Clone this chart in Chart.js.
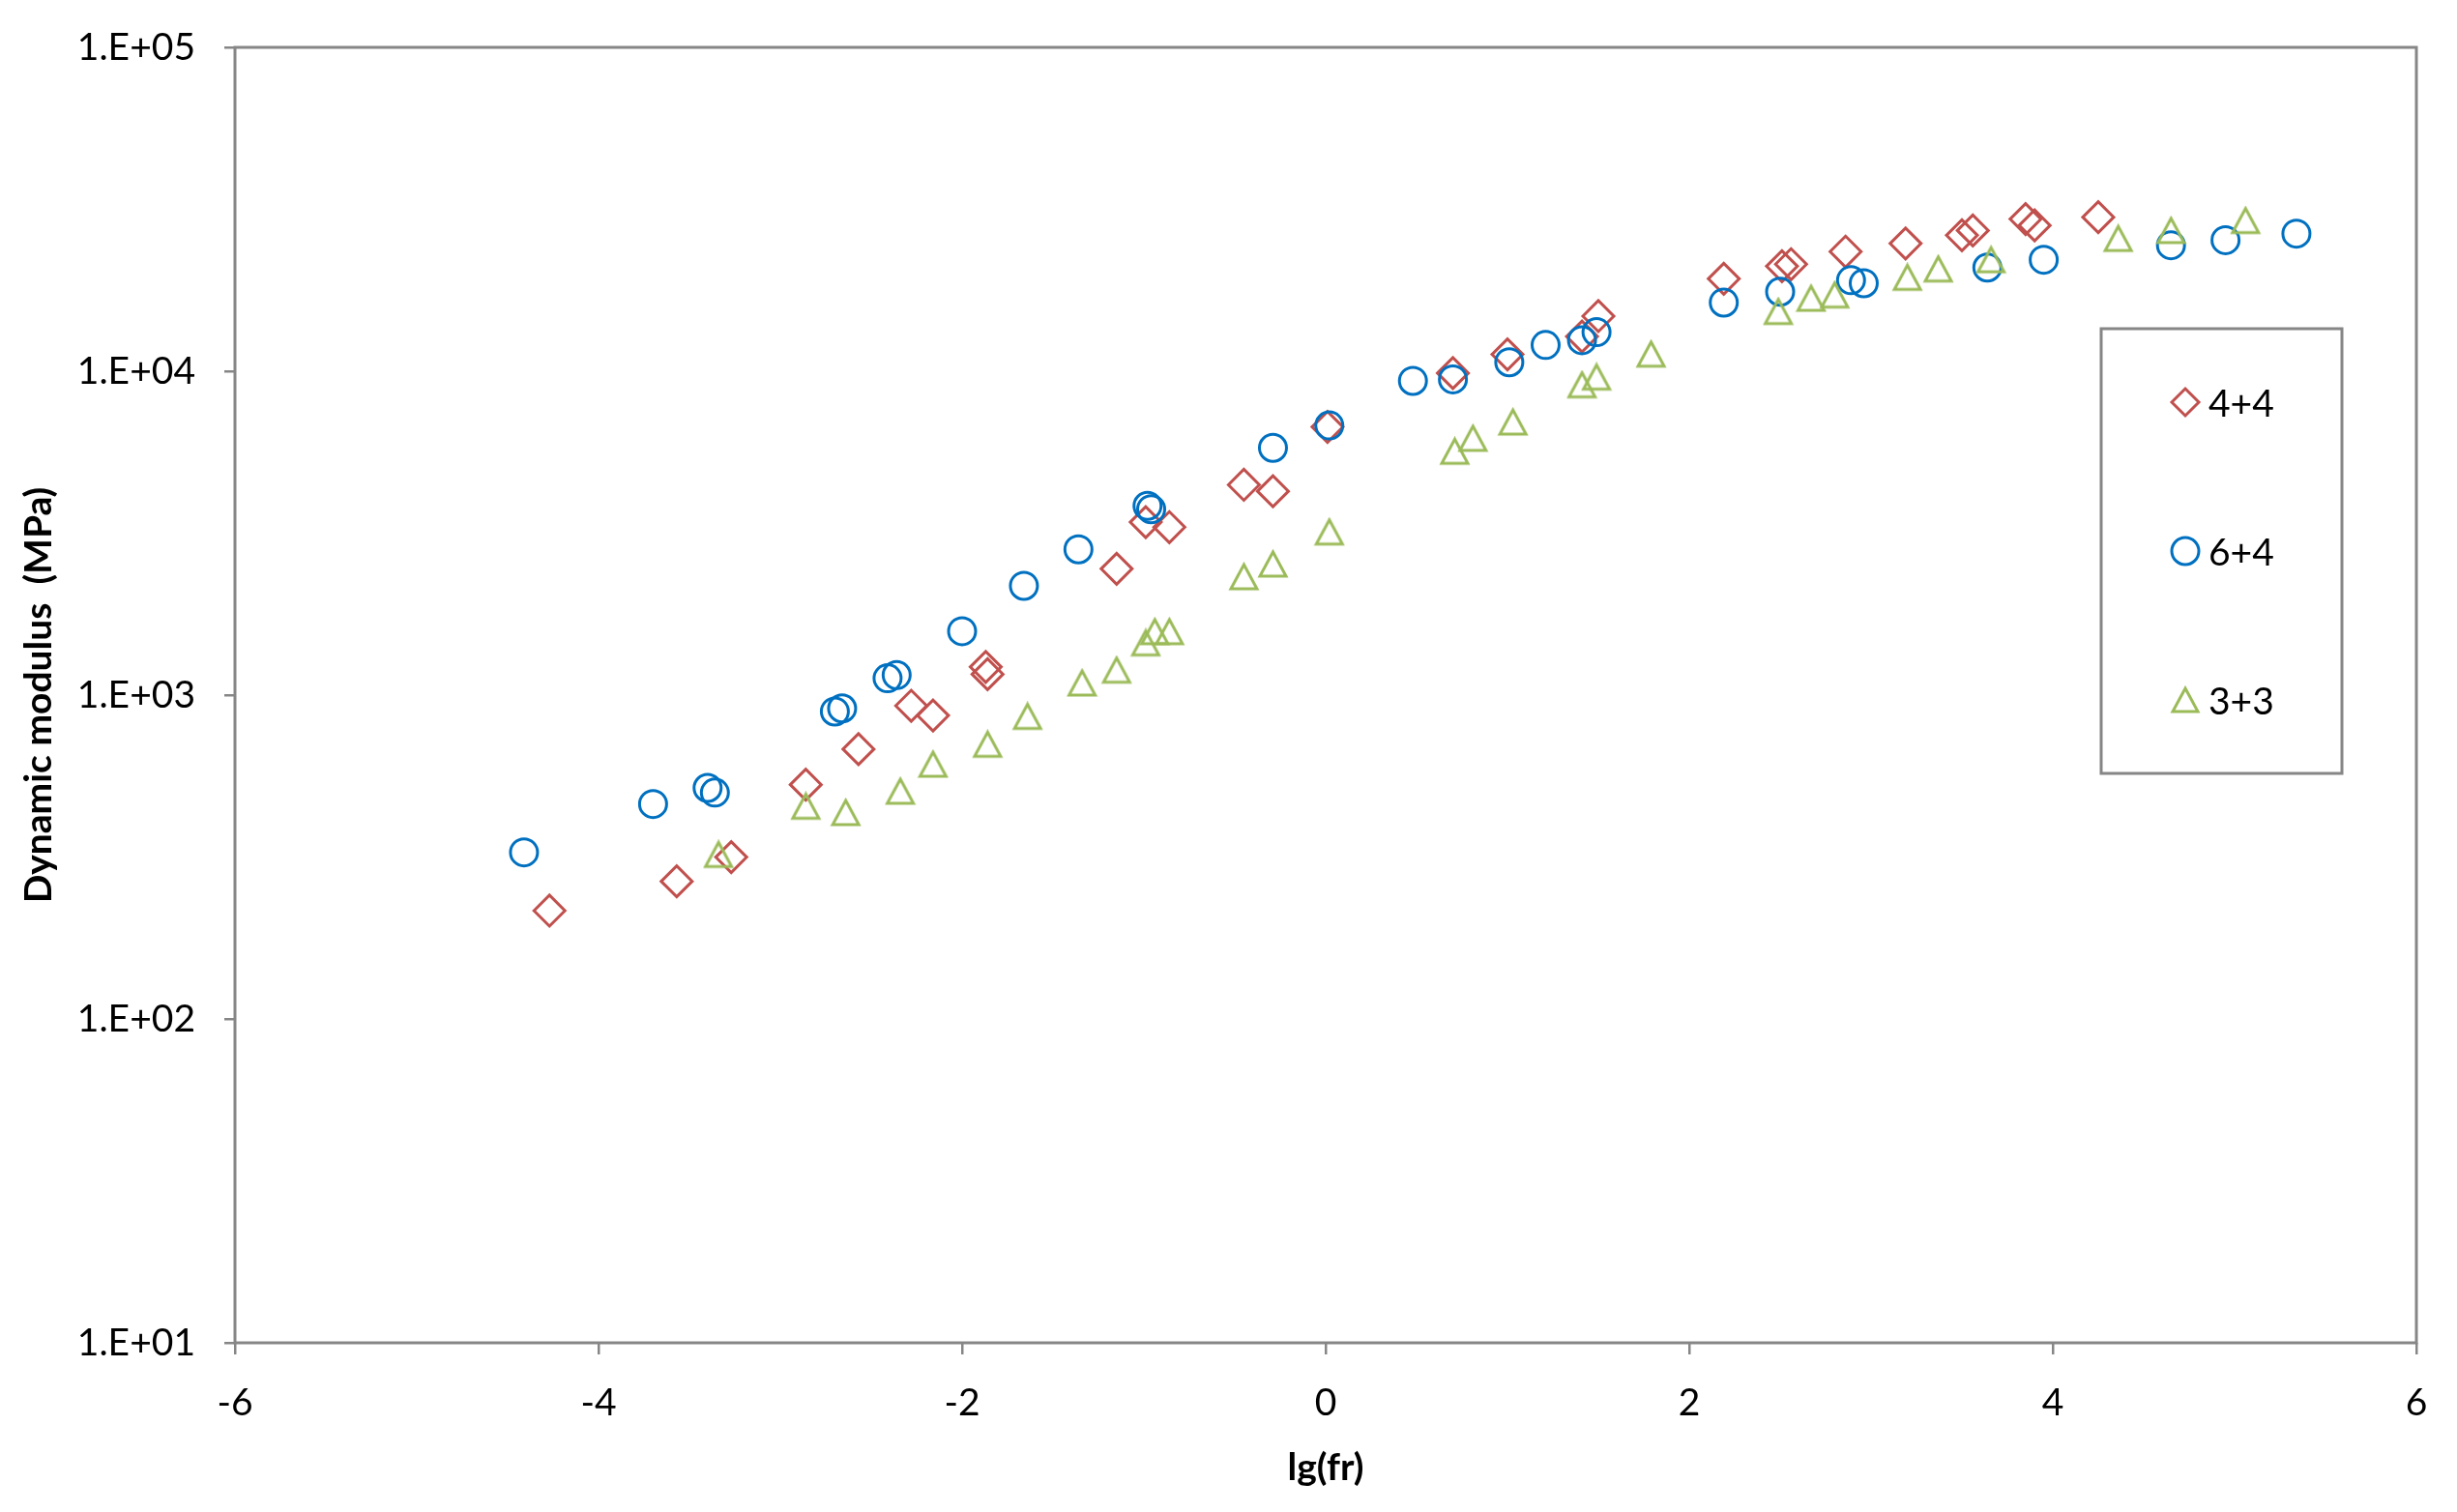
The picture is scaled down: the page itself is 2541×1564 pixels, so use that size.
<!DOCTYPE html>
<html><head><meta charset="utf-8">
<script src="https://cdn.jsdelivr.net/npm/chart.js@4/dist/chart.umd.min.js"></script>
<style>html,body{margin:0;padding:0;background:#fff}</style>
</head><body>
<canvas id="c" width="2541" height="1564" style="display:block;width:2541px;height:1564px"></canvas>
<script>
const seriesNames = ['4+4', '6+4', '3+3'];
const seriesColors = ['#C0504D', '#0070C0', '#9BBB59'];

const x44 = [-4.27, -3.57, -3.27, -2.86, -2.57, -2.28, -2.16, -1.87, -1.86, -1.15, -0.99, -0.86, -0.45, -0.29, 0.01, 0.70, 1.00, 1.41, 1.50, 2.19, 2.51, 2.56, 2.86, 3.19, 3.50, 3.56, 3.85, 3.90, 4.25];
const y44 = [216, 266, 316, 529, 681, 927, 865, 1222, 1160, 2455, 3420, 3300, 4460, 4260, 6730, 9870, 11270, 12800, 14800, 19300, 21100, 21400, 23400, 24800, 26300, 27200, 29500, 28200, 29900];

const x64 = [-4.41, -3.70, -3.40, -3.36, -2.70, -2.66, -2.41, -2.36, -2.00, -1.66, -1.36, -0.98, -0.96, -0.29, 0.02, 0.48, 0.70, 1.01, 1.21, 1.41, 1.49, 2.19, 2.50, 2.89, 2.96, 3.64, 3.95, 4.65, 4.95, 5.34];
const y64 = [327, 461, 517, 500, 890, 910, 1127, 1153, 1575, 2175, 2820, 3840, 3750, 5800, 6800, 9340, 9440, 10660, 12050, 12470, 13200, 16300, 17600, 19100, 18700, 20900, 22100, 24500, 25400, 26600];

const x33 = [-3.34, -2.86, -2.64, -2.34, -2.16, -1.86, -1.64, -1.34, -1.15, -0.99, -0.94, -0.86, -0.45, -0.29, 0.02, 0.71, 0.81, 1.03, 1.41, 1.49, 1.79, 2.49, 2.67, 2.80, 3.20, 3.37, 3.66, 4.36, 4.65, 5.06];
const y33 = [322, 454, 434, 505, 612, 705, 860, 1090, 1195, 1450, 1570, 1570, 2320, 2540, 3190, 5660, 6210, 6970, 9080, 9600, 11300, 15300, 16800, 17200, 19500, 20700, 22100, 25700, 27200, 29200];

const xTickMin = -6, xTickMax = 6, xTickStep = 2;
const yTickValues = [10, 100, 1000, 10000, 100000];
const yTickLabels = ['1.E+01', '1.E+02', '1.E+03', '1.E+04', '1.E+05'];
const xTitle = 'lg(fr)';
const yTitle = 'Dynamic modulus  (MPa)';

const FONT = 'Lato, "Open Sans", sans-serif';
const AXIS_GRAY = '#868686';

// triangle marker image, centred on its bounding box (like the spreadsheet marker)
function makeTriangle(color, w, h) {
  const c = document.createElement('canvas');
  c.width = w + 6; c.height = h + 6;
  const g = c.getContext('2d');
  g.strokeStyle = color; g.lineWidth = 3; g.lineJoin = 'miter';
  g.beginPath();
  g.moveTo(c.width / 2, 3);
  g.lineTo(3 + w, 3 + h);
  g.lineTo(3, 3 + h);
  g.closePath();
  g.stroke();
  return c;
}
const triPlot = makeTriangle(seriesColors[2], 27, 25);
const triLegend = makeTriangle(seriesColors[2], 26, 24);

const seriesStyles = ['rectRot', 'circle', triPlot];
const legendStyles = ['rectRot', 'circle', triLegend];

function pts(xs, ys) { return xs.map((x, i) => ({x: x, y: ys[i]})); }
const allX = [x44, x64, x33], allY = [y44, y64, y33];
const radii = [16, 14, 16];

const datasets = seriesNames.map((name, i) => ({
  label: name,
  data: pts(allX[i], allY[i]),
  showLine: false,
  pointStyle: seriesStyles[i],
  pointRadius: radii[i],
  pointHoverRadius: radii[i],
  pointBorderWidth: 3,
  pointBorderColor: seriesColors[i],
  pointBackgroundColor: 'rgba(0,0,0,0)',
  borderColor: seriesColors[i],
  backgroundColor: 'rgba(0,0,0,0)',
  order: 2 - i
}));

const frame = {
  id: 'frame',
  beforeDatasetsDraw(chart) {
    const {ctx, chartArea: a} = chart;
    ctx.save();
    ctx.strokeStyle = AXIS_GRAY;
    ctx.lineWidth = 3;
    ctx.strokeRect(a.left, a.top, a.right - a.left, a.bottom - a.top);
    ctx.restore();
  }
};

const boxLegend = {
  id: 'boxLegend',
  afterDatasetsDraw(chart) {
    const ctx = chart.ctx;
    const bx = 2173, by = 340, bw = 249, bh = 460;
    ctx.save();
    ctx.fillStyle = '#fff';
    ctx.fillRect(bx, by, bw, bh);
    ctx.strokeStyle = AXIS_GRAY;
    ctx.lineWidth = 3;
    ctx.strokeRect(bx, by, bw, bh);
    const rowsY = [416, 570, 724];
    const lr = [14, 14, 14];
    chart.data.datasets.forEach((ds, i) => {
      ctx.strokeStyle = seriesColors[i];
      ctx.fillStyle = 'rgba(0,0,0,0)';
      ctx.lineWidth = 3;
      Chart.helpers.drawPoint(ctx, {pointStyle: legendStyles[i], radius: lr[i], borderWidth: 3, rotation: 0}, 2260, rowsY[i]);
      ctx.fillStyle = '#000';
      ctx.font = '39px ' + FONT;
      ctx.textBaseline = 'middle';
      ctx.textAlign = 'left';
      ctx.fillText(ds.label, 2284, rowsY[i] + 2);
    });
    ctx.restore();
  }
};

new Chart(document.getElementById('c'), {
  type: 'scatter',
  data: {datasets},
  options: {
    responsive: false,
    animation: false,
    devicePixelRatio: 1,
    layout: {padding: {top: 49, right: 42, left: 0, bottom: 0}},
    plugins: {legend: {display: false}, tooltip: {enabled: false}},
    scales: {
      x: {
        type: 'linear',
        min: xTickMin, max: xTickMax,
        afterFit(s) { s.height = 175; s.paddingLeft = 0; s.paddingRight = 0; },
        ticks: {stepSize: xTickStep, color: '#000', font: {family: FONT, size: 39}, padding: 27, maxRotation: 0},
        grid: {display: true, drawOnChartArea: false, drawTicks: true, tickLength: 12, color: AXIS_GRAY, lineWidth: 2.5},
        border: {display: false},
        title: {display: true, text: xTitle, color: '#000', font: {family: FONT, size: 39, weight: 'bold'}, padding: {top: 0, bottom: 22}}
      },
      y: {
        type: 'logarithmic',
        min: 10, max: 100000,
        afterFit(s) { s.width = 243; s.paddingTop = 0; s.paddingBottom = 0; },
        afterBuildTicks(s) { s.ticks = yTickValues.map(v => ({value: v, major: true})); },
        ticks: {
          color: '#000', font: {family: FONT, size: 39}, padding: 30,
          callback(v) { const i = yTickValues.indexOf(v); return i >= 0 ? yTickLabels[i] : ''; }
        },
        grid: {display: true, drawOnChartArea: false, drawTicks: true, tickLength: 11, color: AXIS_GRAY, lineWidth: 2.5},
        border: {display: false},
        title: {display: true, text: yTitle, color: '#000', font: {family: FONT, size: 39, weight: 'bold'}, padding: {top: 17, bottom: 0}}
      }
    }
  },
  plugins: [frame, boxLegend]
});
</script>
</body></html>
